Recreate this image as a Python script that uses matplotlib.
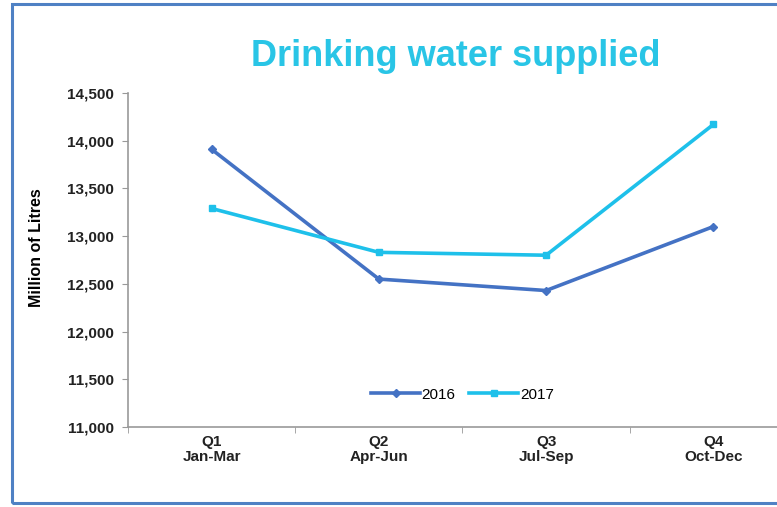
import matplotlib.pyplot as plt
from matplotlib.patches import Rectangle
from matplotlib.ticker import FuncFormatter, FixedLocator
import numpy as np

plt.rcParams['font.family'] = ['Liberation Sans', 'DejaVu Sans']

quarters = ['Q1\nJan-Mar', 'Q2\nApr-Jun', 'Q3\nJul-Sep', 'Q4\nOct-Dec']
values_2016 = [13910, 12550, 12430, 13100]
values_2017 = [13290, 12830, 12800, 14170]

fig = plt.figure(figsize=(7.77, 5.07), dpi=100)
ax = fig.add_axes([0.1647, 0.1578, 0.861, 0.6588])

x = np.arange(len(quarters))
ax.plot(x, values_2016, color='#4472C4', lw=2.6, marker='D', ms=4, label='2016')
ax.plot(x, values_2017, color='#1EC0EA', lw=2.6, marker='s', ms=4, label='2017')

ax.set_xlim(-0.5, 3.5)
ax.set_ylim(11000, 14500)
ax.set_yticks(np.arange(11000, 14501, 500))
ax.yaxis.set_major_formatter(FuncFormatter(lambda v, p: f'{int(v):,}'))
ax.set_xticks(x)
ax.set_xticklabels(quarters, fontweight='bold', fontsize=11, color='#222222', linespacing=1.1)
ax.xaxis.set_minor_locator(FixedLocator(np.arange(-0.5, 4, 1)))
ax.tick_params(axis='x', which='major', length=0, pad=6)
ax.tick_params(axis='x', which='minor', length=4, color='#999999')
ax.tick_params(axis='y', length=4, color='#999999', labelsize=11, pad=6)
for t in ax.get_yticklabels():
    t.set_fontweight('bold')
    t.set_color('#222222')

for s in ['top', 'right']:
    ax.spines[s].set_visible(False)
for s in ['left', 'bottom']:
    ax.spines[s].set_color('#999999')
    ax.spines[s].set_linewidth(1.2)

ax.set_ylabel('Million of Litres', fontweight='bold', fontsize=11.5)
ax.yaxis.set_label_coords(-0.126, 0.536)

ax.legend(loc='lower center', bbox_to_anchor=(0.5, 0.035), ncol=2, frameon=False,
          fontsize=11, handlelength=3.2, columnspacing=0.9, handletextpad=0.1)

fig.text(0.586, 0.888, 'Drinking water supplied', color='#29C5E6', fontsize=26,
         fontweight='bold', ha='center', va='center')

fig.patches.append(Rectangle((12 / 777, 4 / 507), 1.2, 499 / 507, transform=fig.transFigure,
                             fill=False, edgecolor='#4F81C4', lw=2.2))

fig.savefig('out.png', dpi=100)
